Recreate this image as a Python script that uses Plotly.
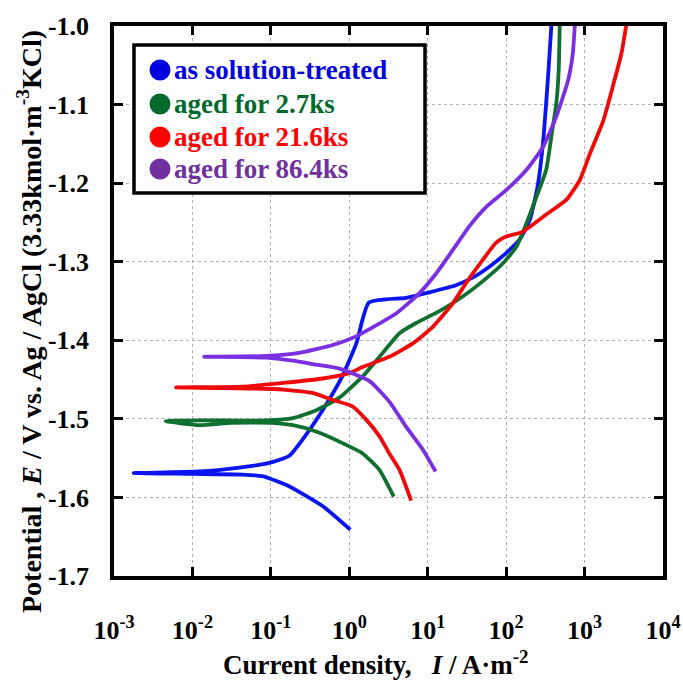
import plotly.graph_objects as go

# ---- data (current density I in A/m^2, potential E in V) ----
names = ["as solution-treated", "aged for 2.7ks", "aged for 21.6ks", "aged for 86.4ks"]

I_st = [1.03, 0.457, 0.172, 0.0783, 0.0437, 0.01, 0.00178,
        0.0123, 0.0398, 0.0955, 0.172, 0.251, 0.457, 0.813, 1.23, 1.78,
        5.30, 10.5, 22.9, 37.8, 61.7, 100, 148, 200, 251, 295, 324, 347, 377]
E_st = [-1.641, -1.611, -1.586, -1.573, -1.571, -1.570, -1.569,
        -1.567, -1.562, -1.556, -1.547, -1.527, -1.489, -1.446, -1.404, -1.352,
        -1.346, -1.339, -1.330, -1.320, -1.306, -1.289, -1.272, -1.247, -1.205, -1.149, -1.098, -1.056, -1.000]

I_27 = [3.69, 2.42, 1.48, 1.0, 0.376, 0.191, 0.105, 0.0316, 0.0123, 0.00457,
        0.0123, 0.0871, 0.191, 0.380, 0.748, 1.48, 2.67, 4.37, 7.13, 14.1, 28.2,
        50.1, 91.2, 135, 182, 234, 324, 377, 437, 468, 482]
E_27 = [-1.599, -1.565, -1.544, -1.535, -1.516, -1.508, -1.505, -1.505, -1.508, -1.503,
        -1.502, -1.502, -1.499, -1.489, -1.473, -1.446, -1.416, -1.391, -1.378, -1.363, -1.344,
        -1.325, -1.302, -1.281, -1.251, -1.222, -1.183, -1.141, -1.098, -1.056, -1.000]

I_216 = [6.14, 4.37, 3.24, 2.42, 1.64, 1.10, 0.617, 0.339, 0.155, 0.105, 0.0251, 0.00617,
         0.0437, 0.155, 0.501, 1.0, 1.48, 3.24, 6.46, 11.6, 20.9, 30.9, 50.1, 74.1, 100,
         162, 324, 589, 871, 1175, 1738, 2291, 2951, 3388]
E_216 = [-1.604, -1.565, -1.544, -1.522, -1.501, -1.484, -1.476, -1.467, -1.463, -1.462, -1.461, -1.460,
         -1.459, -1.454, -1.448, -1.442, -1.434, -1.421, -1.404, -1.383, -1.353, -1.327, -1.298, -1.276, -1.268,
         -1.262, -1.240, -1.221, -1.196, -1.162, -1.120, -1.077, -1.035, -1.000]

I_864 = [12.6, 8.65, 5.30, 3.24, 1.81, 0.748, 0.376, 0.191, 0.0871, 0.0141,
         0.0871, 0.229, 0.617, 1.22, 3.95, 7.85, 12.8, 20.9, 33.9, 56.2, 100, 182, 295, 437, 617, 708, 750]
E_864 = [-1.567, -1.539, -1.510, -1.478, -1.452, -1.436, -1.431, -1.426, -1.422, -1.421,
         -1.420, -1.416, -1.406, -1.395, -1.366, -1.340, -1.315, -1.285, -1.255, -1.230, -1.209, -1.183, -1.154, -1.115, -1.069, -1.035, -1.000]

x_tickvals = [1e-3, 1e-2, 1e-1, 1e0, 1e1, 1e2, 1e3, 1e4]
x_ticktext = ["10<sup>-3</sup>", "10<sup>-2</sup>", "10<sup>-1</sup>", "10<sup>0</sup>",
              "10<sup>1</sup>", "10<sup>2</sup>", "10<sup>3</sup>", "10<sup>4</sup>"]
y_tickvals = [-1.7, -1.6, -1.5, -1.4, -1.3, -1.2, -1.1, -1.0]
y_ticktext = ["-1.7", "-1.6", "-1.5", "-1.4", "-1.3", "-1.2", "-1.1", "-1.0"]

x_title = "<b>Current density,&nbsp;&nbsp;&nbsp;<i>I</i> / A·m<sup>-2</sup></b>"
y_title = "<b>Potential , <i>E</i> / V vs. Ag / AgCl (3.33kmol·m<sup>-3</sup>KCl)</b>"

line_colors = ["#0a14f0", "#107030", "#ee0a0a", "#7a2fe0"]
legend_colors = ["#0000e0", "#006a2c", "#ff0000", "#7030a0"]

series = [(I_st, E_st), (I_27, E_27), (I_216, E_216), (I_864, E_864)]

FONT = "Liberation Serif"
W, H = 683, 682          # body margin removed by post_script
L, R, T, B = 114, 20, 26, 106
PW, PH = W - L - R, H - T - B


def px(xp):   # page x pixel -> paper x
    return (xp - L) / PW


def py(yp):   # page y pixel -> paper y
    return 1 - (yp - T) / PH


fig = go.Figure()
for (xs, ys), c, n in zip(series, line_colors, names):
    fig.add_trace(go.Scatter(x=xs, y=ys, mode="lines", name=n,
                             line=dict(color=c, width=3.8, shape="spline", smoothing=0.5),
                             showlegend=False))

# legend box (custom), paper coordinates
shapes = [dict(type="rect", xref="paper", yref="paper", x0=px(134), x1=px(425), y0=py(193), y1=py(45),
               line=dict(color="black", width=3.5), fillcolor="white", layer="above")]
annotations = []
row_px = [70, 104, 137, 169]   # page pixel rows
for rp, c, n in zip(row_px, legend_colors, names):
    yc = py(rp)
    xc = px(160)
    r = 10.5
    shapes.append(dict(type="circle", xref="paper", yref="paper",
                       x0=xc - r / PW, x1=xc + r / PW, y0=yc - r / PH, y1=yc + r / PH,
                       fillcolor=c, line=dict(color=c, width=0), layer="above"))
    annotations.append(dict(xref="paper", yref="paper", x=px(172), y=yc,
                            xanchor="left", yanchor="middle", showarrow=False,
                            text="<b>" + n + "</b>",
                            font=dict(family=FONT, size=27, color=c)))

# axis titles
annotations.append(dict(xref="paper", yref="paper", x=px(376), y=py(663),
                        xanchor="center", yanchor="middle", showarrow=False,
                        text=x_title, font=dict(family=FONT, size=27, color="black")))
annotations.append(dict(xref="paper", yref="paper", x=px(29), y=py(322),
                        xanchor="center", yanchor="middle", showarrow=False, textangle=-90,
                        text=y_title, font=dict(family=FONT, size=28, color="black")))

fig.update_layout(
    width=W, height=H,
    margin=dict(l=L, r=R, t=T, b=B, autoexpand=False),
    paper_bgcolor="white", plot_bgcolor="white",
    shapes=shapes, annotations=annotations,
    font=dict(family=FONT, size=26, color="black"),
)
fig.update_xaxes(type="log", range=[-3, 4], tickvals=x_tickvals, ticktext=x_ticktext,
                 automargin=False,
                 ticks="inside", ticklen=9, tickwidth=3, tickcolor="black",
                 showline=True, linewidth=3.5, linecolor="black", mirror="ticks",
                 showgrid=True, gridcolor="#b0b0b0", gridwidth=1, griddash="dot",
                 zeroline=False, ticklabelstandoff=28,
                 tickfont=dict(family=FONT, size=26, color="black", weight="bold"))
fig.update_yaxes(range=[-1.7, -1.0], tickvals=y_tickvals, ticktext=y_ticktext,
                 automargin=False,
                 ticks="inside", ticklen=9, tickwidth=3, tickcolor="black",
                 showline=True, linewidth=3.5, linecolor="black", mirror="ticks",
                 showgrid=True, gridcolor="#b0b0b0", gridwidth=1, griddash="dot",
                 zeroline=False, ticklabelstandoff=16,
                 tickfont=dict(family=FONT, size=26, color="black", weight="bold"))

fig.write_html("out.html",
               config={"displayModeBar": False},
               post_script="document.body.style.margin='0';document.body.style.overflow='hidden';")
